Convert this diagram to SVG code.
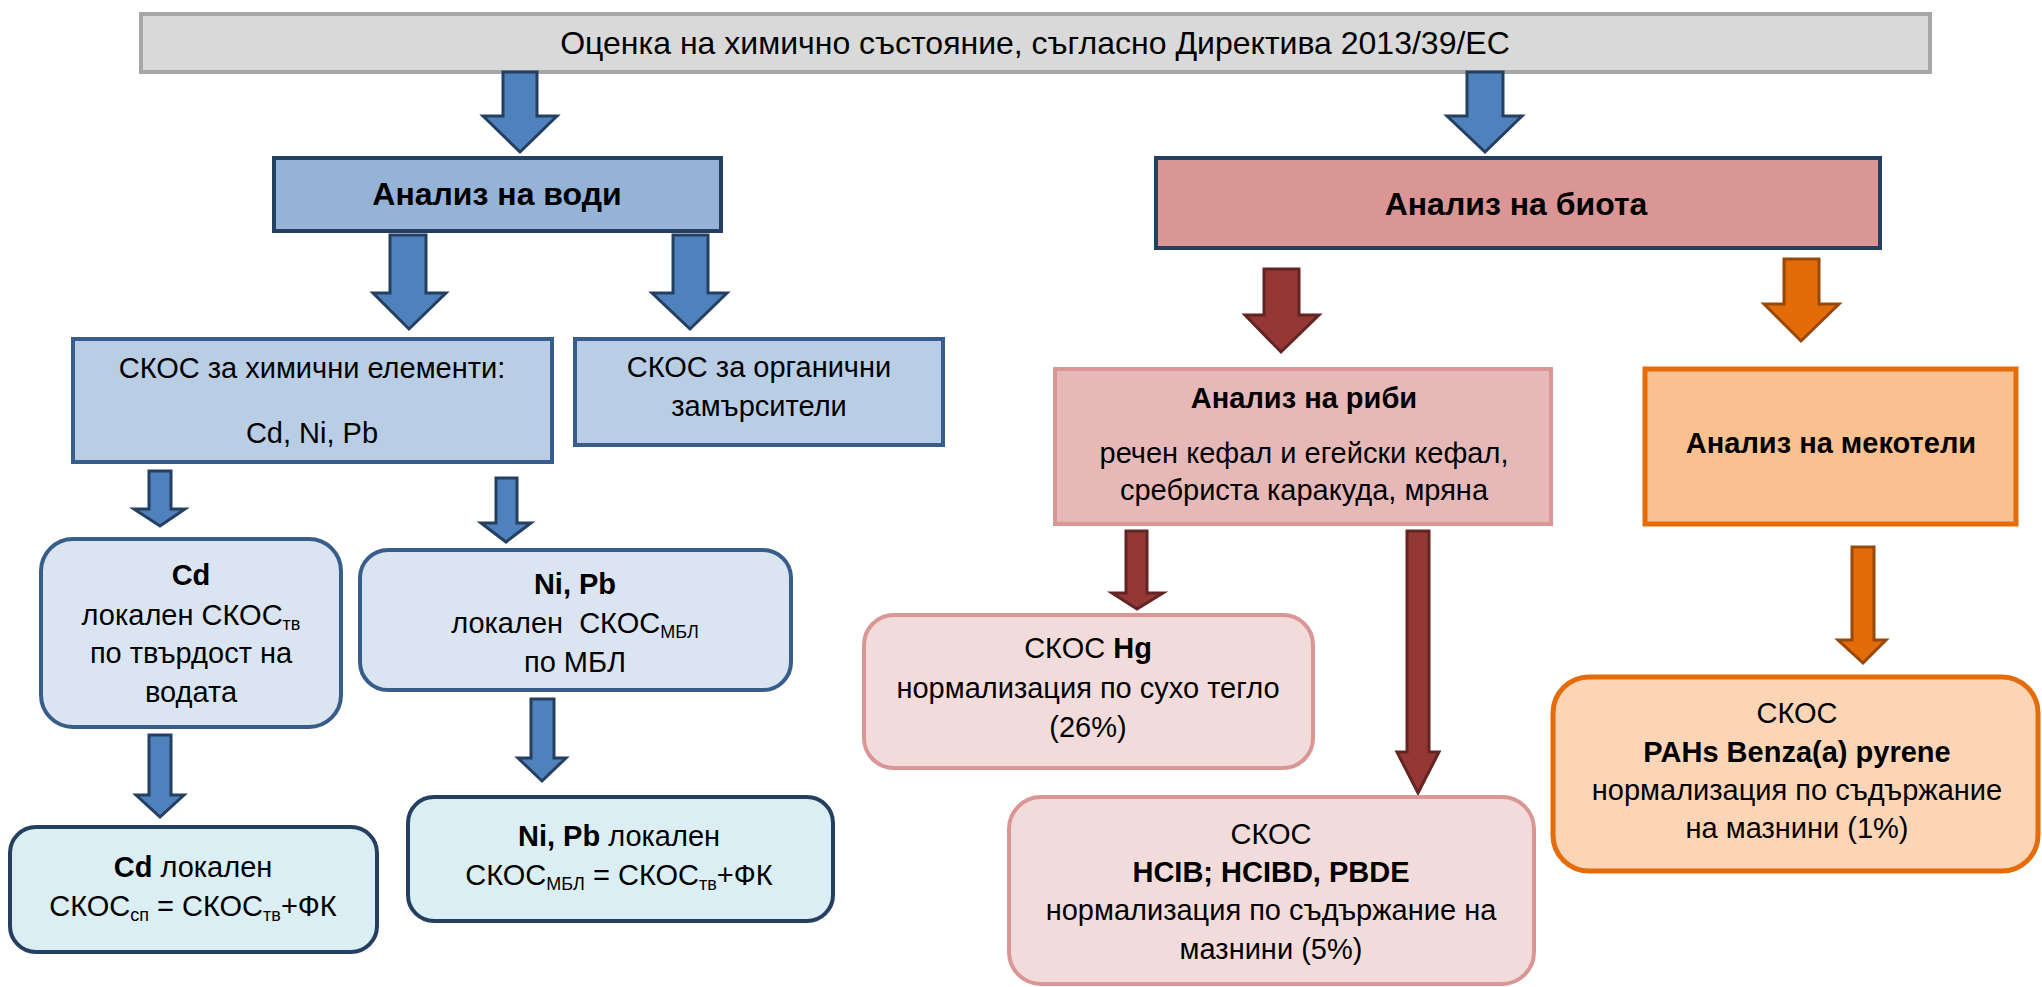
<svg xmlns="http://www.w3.org/2000/svg" width="2042" height="987" viewBox="0 0 2042 987">
<style>
text{font-family:"Liberation Sans",Arial,sans-serif;fill:#000;text-anchor:middle}
.t{font-size:32px}
.h{font-size:29px;font-weight:bold}
.hl{font-size:32px;font-weight:bold}
.b{font-size:29px}
.bb{font-weight:bold}
.s{font-size:18px}
.ab{fill:#4f81bd;stroke:#243f60;stroke-width:3;stroke-linejoin:miter}
.ar{fill:#953735;stroke:#632523;stroke-width:3}
.ao{fill:#e36c09;stroke:#984807;stroke-width:3}
</style>
<g id="top">
<rect x="141" y="14" width="1789" height="58" fill="#d9d9d9" stroke="#a6a6a6" stroke-width="4"/>
<text class="t" x="1035" y="54">Оценка на химично състояние, съгласно Директива 2013/39/ЕС</text>
</g>
<g id="connectors">
<polygon class="ab" points="503,72 537,72 537,116 557,116 520,152 483,116 503,116"/>
<polygon class="ab" points="1467,72 1503,72 1503,116 1522,116 1485,152 1447,116 1467,116"/>
<polygon class="ab" points="390,235 426,235 426,293 446,293 409,329 373,293 390,293"/>
<polygon class="ab" points="673,235 708,235 708,293 727,293 690,329 652,293 673,293"/>
<polygon class="ab" points="149,471 171,471 171,509 185,509 160,526 134,509 149,509"/>
<polygon class="ab" points="496,478 517,478 517,523 531,523 506,542 481,523 496,523"/>
<polygon class="ab" points="149,735 171,735 171,795 184,795 160,817 136,795 149,795"/>
<polygon class="ab" points="531,699 554,699 554,758 566,758 542,781 518,758 531,758"/>
<polygon class="ar" points="1264,269 1299,269 1299,315 1319,315 1281,352 1245,315 1264,315"/>
<polygon class="ao" points="1784,259 1819,259 1819,304 1839,304 1801,341 1764,304 1784,304"/>
<polygon class="ar" points="1126,531 1147,531 1147,593 1163,593 1137,609 1112,593 1126,593"/>
<polygon class="ar" points="1407,531 1429,531 1429,752 1439,752 1418,793 1397,752 1407,752"/>
<polygon class="ao" points="1852,547 1874,547 1874,640 1886,640 1863,663 1838,640 1852,640"/>
</g>
<g id="water">
<rect x="274" y="158" width="447" height="73" fill="#95b3d7" stroke="#243f60" stroke-width="4"/>
<text class="hl" x="497" y="205">Анализ на води</text>
</g>
<g id="biota">
<rect x="1156" y="158" width="724" height="90" fill="#d99694" stroke="#243f60" stroke-width="4"/>
<text class="hl" x="1516" y="215">Анализ на биота</text>
</g>
<g id="elements">
<rect x="73" y="339" width="479" height="123" fill="#b9cde5" stroke="#385d8a" stroke-width="4"/>
<text class="b" x="312" y="378">СКОС за химични елементи:</text>
<text class="b" x="312" y="443">Cd, Ni, Pb</text>
</g>
<g id="organic">
<rect x="575" y="339" width="368" height="106" fill="#b9cde5" stroke="#385d8a" stroke-width="4"/>
<text class="b" x="759" y="377">СКОС за органични</text>
<text class="b" x="759" y="416">замърсители</text>
</g>
<g id="cd">
<rect x="41" y="539" width="300" height="188" rx="32" fill="#dbe5f1" stroke="#385d8a" stroke-width="4"/>
<text class="h" x="191" y="585">Cd</text>
<text class="b" x="191" y="625">локален СКОС<tspan class="s" dy="5">тв</tspan></text>
<text class="b" x="191" y="663">по твърдост на</text>
<text class="b" x="191" y="702">водата</text>
</g>
<g id="nipb">
<rect x="360" y="550" width="431" height="140" rx="28" fill="#dbe5f1" stroke="#385d8a" stroke-width="4"/>
<text class="h" x="575" y="594">Ni, Pb</text>
<text class="b" x="575" y="633">локален &#160;СКОС<tspan class="s" dy="5">МБЛ</tspan></text>
<text class="b" x="575" y="672">по МБЛ</text>
</g>
<g id="cd-local">
<rect x="10" y="827" width="367" height="125" rx="26" fill="#dbeef4" stroke="#243f60" stroke-width="4"/>
<text class="b" x="193" y="877"><tspan class="bb">Cd</tspan> локален</text>
<text class="b" x="193" y="916">СКОС<tspan class="s" dy="5">сп</tspan><tspan dy="-5"> = СКОС</tspan><tspan class="s" dy="5">тв</tspan><tspan dy="-5">+ФК</tspan></text>
</g>
<g id="nipb-local">
<rect x="408" y="797" width="425" height="124" rx="26" fill="#dbeef4" stroke="#243f60" stroke-width="4"/>
<text class="b" x="619" y="846"><tspan class="bb">Ni, Pb</tspan> локален</text>
<text class="b" x="619" y="885">СКОС<tspan class="s" dy="5">МБЛ</tspan><tspan dy="-5"> = СКОС</tspan><tspan class="s" dy="5">тв</tspan><tspan dy="-5">+ФК</tspan></text>
</g>
<g id="fish">
<rect x="1055" y="369" width="496" height="155" fill="#e6b9b8" stroke="#d99694" stroke-width="4"/>
<text class="h" x="1304" y="408">Анализ на риби</text>
<text class="b" x="1304" y="463">речен кефал и егейски кефал,</text>
<text class="b" x="1304" y="500">сребриста каракуда, мряна</text>
</g>
<g id="molluscs">
<rect x="1645" y="369" width="371" height="155" fill="#fac090" stroke="#e46c0a" stroke-width="5"/>
<text class="h" x="1831" y="453">Анализ на мекотели</text>
</g>
<g id="hg">
<rect x="864" y="615" width="449" height="153" rx="30" fill="#f2dcdb" stroke="#d99694" stroke-width="4"/>
<text class="b" x="1088" y="658">СКОС <tspan class="bb">Hg</tspan></text>
<text class="b" x="1088" y="698">нормализация по сухо тегло</text>
<text class="b" x="1088" y="737">(26%)</text>
</g>
<g id="hclb">
<rect x="1009" y="797" width="525" height="187" rx="32" fill="#f2dcdb" stroke="#d99694" stroke-width="4"/>
<text class="b" x="1271" y="844">СКОС</text>
<text class="h" x="1271" y="882">HCIB; HCIBD, PBDE</text>
<text class="b" x="1271" y="920">нормализация по съдържание на</text>
<text class="b" x="1271" y="959">мазнини (5%)</text>
</g>
<g id="pahs">
<rect x="1553" y="677" width="485" height="194" rx="36" fill="#fbd5b5" stroke="#e46c0a" stroke-width="5"/>
<text class="b" x="1797" y="723">СКОС</text>
<text class="h" x="1797" y="762">PAHs Benza(a) pyrene</text>
<text class="b" x="1797" y="800">нормализация по съдържание</text>
<text class="b" x="1797" y="838">на мазнини (1%)</text>
</g>
</svg>
